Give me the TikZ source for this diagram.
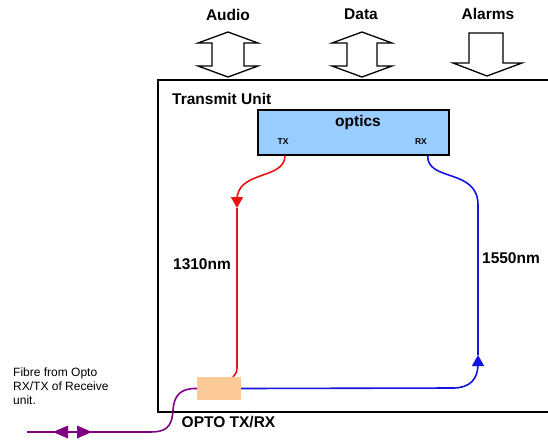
\documentclass[tikz,border=0pt]{standalone}
\usepackage{fontspec}
\setmainfont{Liberation Sans}
\usetikzlibrary{arrows.meta}
\definecolor{optblue}{RGB}{153,204,255}
\definecolor{peach}{RGB}{252,202,152}
\definecolor{redc}{RGB}{232,20,20}
\definecolor{bluec}{RGB}{20,20,225}
\definecolor{purp}{RGB}{128,0,128}
\begin{document}
\begin{tikzpicture}[x=1pt,y=-1pt,
  lbl/.style={font=\fontsize{15.5}{18}\selectfont\bfseries, inner sep=0},
  smalllbl/.style={font=\fontsize{8.5}{10}\selectfont\bfseries, inner sep=0},
  bigarrow/.style={draw=black, line width=1.3pt, fill=white, line join=miter},
  wire/.style={line width=1.6pt},
  tip/.style={-{Triangle[width=12pt,length=11pt]}}]
\useasboundingbox (0,0) rectangle (548,440);
% top labels and arrows
\node[lbl] (audio) at (228,15) {Audio};
\node[lbl] (data) at (361,14) {Data};
\node[lbl] (alarms) at (488,14) {Alarms};
\draw[bigarrow, shift={(228,0)}] (0,32) -- (30,43) -- (16,43) -- (16,66) -- (30,66) -- (0,77) -- (-30,66) -- (-16,66) -- (-16,43) -- (-30,43) -- cycle;
\draw[bigarrow, shift={(362,0)}] (0,32) -- (30,43) -- (15,43) -- (15,66) -- (30,66) -- (0,77) -- (-30,66) -- (-15,66) -- (-15,43) -- (-30,43) -- cycle;
\draw[bigarrow, shift={(487,0)}] (-18,33) -- (16,33) -- (16,63) -- (35,63) -- (0,76) -- (-34,63) -- (-18,63) -- cycle;
% main box
\draw[line width=1.8pt] (548,80) -- (158,80) -- (158,412) -- (548,412);
\node[lbl, anchor=west] (tu) at (172,99) {Transmit Unit};
% optics
\node[draw, line width=1.3pt, fill=optblue, minimum width=191pt, minimum height=45pt, inner sep=0] (optics) at (353.5,132.5) {};
\node[lbl] (opttxt) at (358,122) {optics};
\node[smalllbl] (tx) at (283,142) {TX};
\node[smalllbl] (rx) at (421,142) {RX};
% opto tx/rx
\node[fill=peach, minimum width=44pt, minimum height=23pt, inner sep=0] (ob) at (219,388.5) {};
\node[lbl] (optolbl) at (228.5,422) {OPTO TX/RX};
\node[lbl] (l1310) at (202,264) {1310nm};
\node[lbl] (l1550) at (511,258) {1550nm};
\node[font=\fontsize{12}{14}\selectfont, align=left, anchor=north west, inner sep=0] (fibre) at (13,368) {Fibre from Opto\\RX/TX of Receive\\unit.};
% red path
\coordinate (txp) at ([xshift=-68.5pt]optics.south);
\coordinate (redtip) at (237,208);
\draw[redc, wire, tip] (txp) .. controls (285,180) and (237,170) .. (237,200) -- (redtip);
\draw[redc, wire] (redtip) -- (237,368) .. controls (237,374) and (234,375) .. ([xshift=14pt]ob.north);
% blue path
\coordinate (rxp) at ([xshift=-22pt]optics.south east);
\coordinate (bluetip) at (478,355);
\draw[bluec, wire, tip] (ob.east) -- (453,388) .. controls (470,388) and (478,379) .. (478,364) -- (bluetip);
\draw[bluec, wire] (bluetip) -- (478,205) .. controls (478,168) and (427,182) .. (rxp);
% purple fibre
\coordinate (fend) at (27,432);
\draw[purp, wire] (ob.west) .. controls (180,388) and (174,396) .. (173,410) .. controls (172,428) and (165,432) .. (150,432) -- (fend);
\fill[purp] (53,432) -- (68,425.5) -- (68,438.5) -- cycle;
\fill[purp] (92,432) -- (77,425.5) -- (77,438.5) -- cycle;
\end{tikzpicture}
\end{document}
